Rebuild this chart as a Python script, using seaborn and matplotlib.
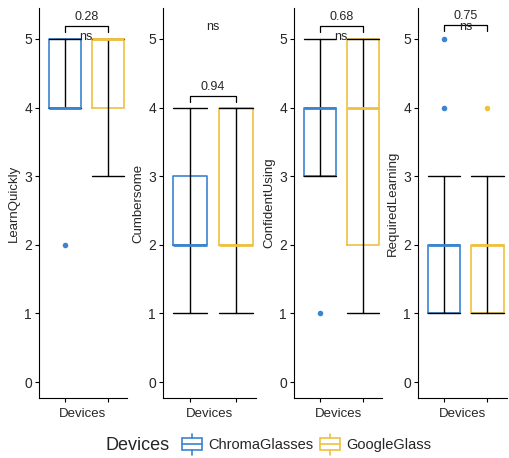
import numpy as np
import pandas as pd
import matplotlib
matplotlib.use("Agg")
import matplotlib.pyplot as plt
import seaborn as sns
from matplotlib.legend_handler import HandlerBase
from matplotlib.patches import Rectangle
from matplotlib.lines import Line2D

devices = ["ChromaGlasses", "GoogleGlass"]
device_colors = ["#3A84D0", "#EFC143"]
measures = ["LearnQuickly", "Cumbersome", "ConfidentUsing", "RequiredLearning"]

# Likert ratings (1-5) per device
learn_quickly_chroma = [2, 4, 4, 4, 4, 5, 5, 5]
learn_quickly_google = [3, 4, 4, 5, 5, 5, 5, 5]
cumbersome_chroma = [1, 2, 2, 2, 2, 3, 3, 4]
cumbersome_google = [1, 2, 2, 2, 2, 4, 4, 4]
confident_chroma = [1, 3, 3, 4, 4, 4, 4, 5]
confident_google = [1, 2, 2, 4, 4, 5, 5, 5]
required_chroma = [1, 1, 1, 1, 2, 2, 2, 2, 2, 2, 3, 4, 5]
required_google = [1, 1, 1, 1, 2, 2, 2, 2, 2, 2, 3, 3, 4]

# wilcoxon p-values and where the brackets sit
p_labels = ["0.28", "0.94", "0.68", "0.75"]
bracket_y = [5.19, 4.17, 5.19, 5.20]
ns_y = [5.03, 5.17, 5.03, 5.17]

ratings = {
    "LearnQuickly": (learn_quickly_chroma, learn_quickly_google),
    "Cumbersome": (cumbersome_chroma, cumbersome_google),
    "ConfidentUsing": (confident_chroma, confident_google),
    "RequiredLearning": (required_chroma, required_google),
}

rows = []
for m in measures:
    for dev, vals in zip(devices, ratings[m]):
        for v in vals:
            rows.append({"measure": m, "Devices": dev, "x": "Devices", "value": v})
df = pd.DataFrame(rows)
palette = dict(zip(devices, device_colors))


def whisker_range(v):
    v = np.asarray(v)
    q1, q3 = np.percentile(v, [25, 75])
    iqr = q3 - q1
    inside = v[(v >= q1 - 1.5 * iqr) & (v <= q3 + 1.5 * iqr)]
    return inside.min(), inside.max()


class BoxHandler(HandlerBase):
    def create_artists(self, legend, orig_handle, xdescent, ydescent,
                       width, height, fontsize, trans):
        c = orig_handle.get_edgecolor()
        x0, y0 = -xdescent, -ydescent
        rect = Rectangle((x0, y0), width, height, fill=False, edgecolor=c,
                         lw=1.2, transform=trans)
        mid = Line2D([x0, x0 + width], [y0 + height / 2] * 2, color=c, lw=1.2, transform=trans)
        top = Line2D([x0 + width / 2] * 2, [y0 + height, y0 + height * 1.4], color=c, lw=1.2, transform=trans)
        bot = Line2D([x0 + width / 2] * 2, [y0, y0 - height * 0.4], color=c, lw=1.2, transform=trans)
        return [rect, mid, top, bot]


sns.set_style("ticks")
plt.rcParams["font.family"] = ["Liberation Sans", "DejaVu Sans"]

W, H = 509, 458
fig = plt.figure(figsize=(W / 100, H / 100), dpi=100)

lefts = [39, 163, 294, 418]
widths = [88, 93, 88, 89]
top_px, bottom_px = 8, 398

for i, m in enumerate(measures):
    ax = fig.add_axes([lefts[i] / W, (H - bottom_px) / H, widths[i] / W, (bottom_px - top_px) / H])
    sub = df[df["measure"] == m]
    sns.boxplot(data=sub, x="x", y="value", hue="Devices", hue_order=devices,
                palette=palette, fill=False, width=0.8, gap=0.25, linewidth=1.2,
                whiskerprops={"linewidth": 0}, capprops={"linewidth": 0},
                medianprops={"linewidth": 2},
                flierprops={"marker": "o", "markersize": 4},
                legend=False, ax=ax)
    for ln in ax.lines:
        if ln.get_marker() == "o":
            ln.set_markerfacecolor(ln.get_markeredgecolor())
            ln.set_markeredgewidth(0)
    sns.pointplot(data=sub, x="x", y="value", hue="Devices", hue_order=devices,
                  palette=["black", "black"], estimator="median",
                  errorbar=whisker_range, dodge=0.4, capsize=0.3,
                  linestyle="none", markersize=0,
                  err_kws={"linewidth": 1.0}, legend=False, ax=ax)

    # comparison bracket
    y = bracket_y[i]
    ax.plot([-0.2, -0.2, 0.2, 0.2], [y - 0.09, y, y, y - 0.09], color="black", lw=0.9)
    ax.text(0, y + 0.04, p_labels[i], ha="center", va="bottom", fontsize=9)
    ax.text(0, ns_y[i], "ns", ha="center", va="center", fontsize=9)

    ax.set_xlim(-0.44, 0.38)
    ax.set_ylim(-0.233, 5.45)
    ax.set_yticks(range(6))
    ax.set_xticks([-0.2, 0.2])
    ax.set_xticklabels(["", ""])
    ax.set_xlabel("Devices", fontsize=9.5, labelpad=2)
    ax.set_ylabel(m, fontsize=9.5, labelpad=3)
    ax.tick_params(axis="both", length=3, width=0.8, color="black", labelsize=10, pad=2)
    for s in ["top", "right"]:
        ax.spines[s].set_visible(False)
    for s in ["left", "bottom"]:
        ax.spines[s].set_color("black")
        ax.spines[s].set_linewidth(0.8)

handles = [Rectangle((0, 0), 1, 1, fill=False, edgecolor=c) for c in device_colors]
fig.text(170 / W, 0.028, "Devices", ha="right", va="center", fontsize=13)
fig.legend(handles, devices, handler_map={Rectangle: BoxHandler()},
           loc="center left", bbox_to_anchor=(182 / W, 0.028), ncol=2,
           frameon=False, fontsize=10.5, handlelength=1.37, handleheight=0.85,
           handletextpad=0.4, columnspacing=0.5, borderpad=0, borderaxespad=0)

fig.savefig("out.png", dpi=100)
